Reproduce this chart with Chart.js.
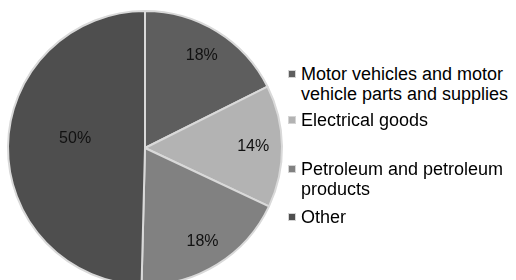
<!DOCTYPE html>
<html>
<head>
<meta charset="utf-8">
<script src="https://cdn.jsdelivr.net/npm/chart.js@4/dist/chart.umd.min.js"></script>
<style>
  html, body { margin: 0; padding: 0; background: #fff; width: 516px; height: 280px; overflow: hidden; }
  #wrap { position: relative; width: 516px; height: 280px; overflow: hidden; }
  #pie { position: absolute; left: 0; top: 3px; }
  .leg { position: absolute; left: 301px; width: 215px; font-family: "Liberation Sans", Arial, sans-serif; font-size: 18px; line-height: 20px; color: #000; }
  .box { position: absolute; left: -13px; top: 6px; width: 6px; height: 6px; border: 1px solid #d4d4d4; }
</style>
</head>
<body>
<div id="wrap">
  <canvas id="pie" width="290" height="290"></canvas>
  <div id="legend"></div>
</div>
<script>
const categories = [
  "Motor vehicles and motor vehicle parts and supplies",
  "Electrical goods",
  "Petroleum and petroleum products",
  "Other"
];
const shares = [17.6, 14.4, 18.4, 49.6];
const sliceColors = ["#5e5e5e", "#b3b3b3", "#818181", "#4e4e4e"];

// legend layout (style only)
const legendTops = [64, 110, 159, 207];
const legend = document.getElementById('legend');
categories.forEach((c, i) => {
  const d = document.createElement('div');
  d.className = 'leg';
  d.style.top = legendTops[i] + 'px';
  const b = document.createElement('span');
  b.className = 'box';
  b.style.background = sliceColors[i];
  d.appendChild(b);
  d.appendChild(document.createTextNode(c));
  legend.appendChild(d);
});

const labelPlugin = {
  id: 'sliceLabels',
  afterDatasetsDraw(chart, args, opts) {
    const ctx = chart.ctx;
    const meta = chart.getDatasetMeta(0);
    const data = chart.data.datasets[0].data;
    ctx.save();
    ctx.font = '16px "Liberation Sans", Arial, sans-serif';
    ctx.fillStyle = '#111';
    ctx.textAlign = 'center';
    ctx.textBaseline = 'middle';
    meta.data.forEach((arc, i) => {
      const p = arc.getProps(['x', 'y', 'startAngle', 'endAngle', 'outerRadius'], true);
      const mid = (p.startAngle + p.endAngle) / 2;
      const r = p.outerRadius * opts.radial[i];
      const x = p.x + Math.cos(mid) * r;
      const y = p.y + Math.sin(mid) * r + opts.dy[i];
      ctx.fillText(Math.round(data[i]) + '%', x, y);
    });
    ctx.restore();
  }
};

new Chart(document.getElementById('pie'), {
  type: 'pie',
  data: {
    labels: categories,
    datasets: [{
      data: shares,
      backgroundColor: sliceColors,
      borderColor: '#d9d9d9',
      borderWidth: 2
    }]
  },
  options: {
    responsive: false,
    animation: false,
    layout: { padding: 7 },
    plugins: {
      legend: { display: false },
      tooltip: { enabled: false },
      sliceLabels: { radial: [0.79, 0.79, 0.8, 0.51], dy: [0, 0, 0, -9] }
    }
  },
  plugins: [labelPlugin]
});
</script>
</body>
</html>
